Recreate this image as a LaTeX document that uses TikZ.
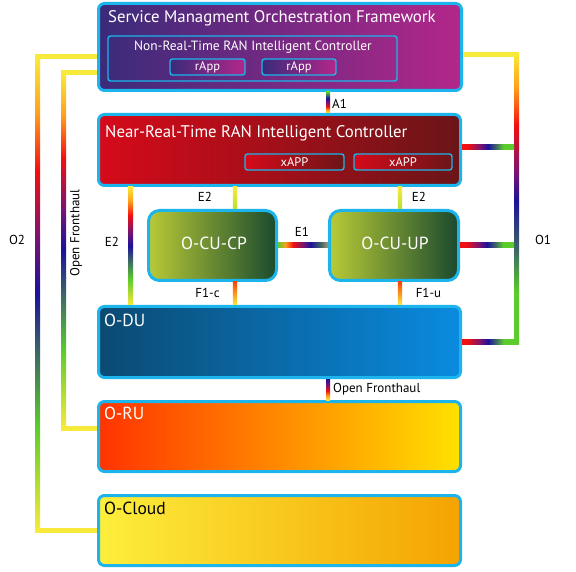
\documentclass[tikz,border=0pt]{standalone}
\usepackage{fontspec}
\setmainfont{PT Sans}
\usetikzlibrary{calc}
\definecolor{bcyan}{HTML}{1CB4EC}
\definecolor{ryellow}{HTML}{F8EA3A}
\definecolor{rorange}{HTML}{FF9F1C}
\definecolor{rred}{HTML}{F21010}
\definecolor{rpurple}{HTML}{7A1470}
\definecolor{rblue}{HTML}{1C1299}
\definecolor{rteal}{HTML}{3C6468}
\definecolor{rgreen}{HTML}{5CCB2C}
\definecolor{rygreen}{HTML}{B8E030}
\definecolor{rtan}{HTML}{A89870}
\definecolor{smoL}{HTML}{3A2B7A}
\definecolor{smoR}{HTML}{B3278A}
\definecolor{nrtL}{HTML}{D60A1A}
\definecolor{nrtR}{HTML}{6A1518}
\definecolor{cuL}{HTML}{B8CA36}
\definecolor{cuR}{HTML}{1A4A2E}
\definecolor{duL}{HTML}{0B4A72}
\definecolor{duR}{HTML}{0A8BE0}
\definecolor{ruL}{HTML}{FF3300}
\definecolor{ruR}{HTML}{FFE100}
\definecolor{clL}{HTML}{FCEE3C}
\definecolor{clR}{HTML}{F5A300}
\pgfdeclareverticalshading{rainbowV}{100bp}{color(0bp)=(ryellow); color(25bp)=(ryellow); color(36bp)=(rgreen); color(44bp)=(rteal); color(50bp)=(rblue); color(56bp)=(rpurple); color(63bp)=(rred); color(69bp)=(rorange); color(75bp)=(ryellow); color(100bp)=(ryellow)}
\pgfdeclareverticalshading{oneV}{100bp}{color(0bp)=(rgreen); color(34bp)=(rgreen); color(41.5bp)=(rteal); color(49.5bp)=(rblue); color(54.5bp)=(rpurple); color(62.5bp)=(rred); color(69bp)=(rorange); color(75bp)=(ryellow); color(100bp)=(ryellow)}
\pgfdeclarehorizontalshading{oneH}{100bp}{color(0bp)=(rred); color(30bp)=(rred); color(42.5bp)=(rpurple); color(50bp)=(rblue); color(57.5bp)=(rteal); color(65bp)=(rgreen); color(100bp)=(rgreen)}
\pgfdeclarehorizontalshading{eoneH}{100bp}{color(0bp)=(rgreen); color(25bp)=(rgreen); color(32.5bp)=(rorange); color(40bp)=(rred); color(50bp)=(rpurple); color(57.5bp)=(rblue); color(67.5bp)=(rteal); color(75bp)=(rtan); color(100bp)=(rtan)}
\pgfdeclareverticalshading{aoneV}{100bp}{color(0bp)=(ryellow); color(25bp)=(ryellow); color(32.5bp)=(rorange); color(40bp)=(rred); color(50bp)=(rpurple); color(60bp)=(rblue); color(75bp)=(rgreen); color(100bp)=(rgreen)}
\pgfdeclareverticalshading{ofhV}{100bp}{color(0bp)=(ryellow); color(25bp)=(ryellow); color(35bp)=(rorange); color(47bp)=(rred); color(60bp)=(rpurple); color(75bp)=(rblue); color(100bp)=(rblue)}
\tikzset{
  box/.style={draw=bcyan, line width=3pt, rounded corners=6pt, inner sep=0pt},
  sbox/.style={draw=bcyan, line width=1.4pt, rounded corners=2.5pt, inner sep=0pt},
  ttl/.style={text=white, font=\fontsize{16.8}{19}\selectfont, inner sep=0pt, anchor=west},
  lbl/.style={text=black, font=\fontsize{13}{15}\selectfont, inner sep=0pt},
  small/.style={text=white, font=\fontsize{12.5}{14}\selectfont, inner sep=0pt}
}
\begin{document}
\begin{tikzpicture}[x=1pt,y=-1pt]
\useasboundingbox (0,0) rectangle (576,572);
\fill[white] (0,0) rectangle (576,572);
% main boxes
\node[box, minimum width=363pt, minimum height=87pt, left color=smoL, right color=smoR] (smo) at (280,47) {};
\node[box, minimum width=362pt, minimum height=71pt, left color=nrtL, right color=nrtR] (nrt) at (279.5,150) {};
\node[box, rounded corners=11pt, minimum width=128pt, minimum height=70pt, left color=cuL, right color=cuR] (cucp) at (212.5,245.5) {};
\node[box, rounded corners=11pt, minimum width=129pt, minimum height=70pt, left color=cuL, right color=cuR] (cuup) at (394,245.5) {};
\node[box, minimum width=362pt, minimum height=71pt, left color=duL, right color=duR] (odu) at (279.5,342) {};
\node[box, minimum width=362pt, minimum height=70pt, left color=ruL, right color=ruR] (oru) at (279.5,436.5) {};
\node[box, minimum width=362pt, minimum height=70pt, left color=clL, right color=clR] (ocl) at (279.5,530.5) {};
% inner boxes
\node[sbox, minimum width=289pt, minimum height=45pt] (nonrt) at (252.5,58.5) {};
\node[sbox, minimum width=75pt, minimum height=16pt, left color=smoL, right color=smoR] (rapp1) at (207.5,67) {};
\node[sbox, minimum width=74pt, minimum height=16pt, left color=smoL, right color=smoR] (rapp2) at (299,67) {};
\node[sbox, minimum width=99pt, minimum height=16pt, left color=nrtL, right color=nrtR] (xapp1) at (294.5,162) {};
\node[sbox, minimum width=98pt, minimum height=16pt, left color=nrtL, right color=nrtR] (xapp2) at (403,162) {};
% titles
\node[ttl] (smoT) at (108,18) {Service Managment Orchestration Framework};
\node[small, font=\fontsize{13.4}{15}\selectfont] (nonrtT) at (253,47) {Non-Real-Time RAN Intelligent Controller};
\node[small] (rapp1T) at (rapp1) {rApp};
\node[small] (rapp2T) at (rapp2) {rApp};
\node[ttl] (nrtT) at (105,133) {Near-Real-Time RAN Intelligent Controller};
\node[small] (xapp1T) at (xapp1) {xAPP};
\node[small] (xapp2T) at (xapp2) {xAPP};
\node[ttl, anchor=center, font=\fontsize{17.5}{20}\selectfont] (cucpT) at (214,243) {O-CU-CP};
\node[ttl, anchor=center, font=\fontsize{17.5}{20}\selectfont] (cuupT) at (395,243) {O-CU-UP};
\node[ttl, font=\fontsize{17.5}{20}\selectfont] (oduT) at (104,320) {O-DU};
\node[ttl, font=\fontsize{17.5}{20}\selectfont] (oruT) at (104,413) {O-RU};
\node[ttl, text=black, font=\fontsize{17.5}{20}\selectfont] (oclT) at (104,508) {O-Cloud};
% short connectors
\coordinate (a1) at (328,0);
\shade[shading=aoneV] ($(a1 |- smo.south)+(-2,0)$) rectangle ($(a1 |- nrt.north)+(2,0)$);
\coordinate (ofh) at (328,0);
\shade[shading=ofhV] ($(ofh |- odu.south)+(-2,0)$) rectangle ($(ofh |- oru.north)+(2,0)$);
\coordinate (e2l) at (235,0);
\coordinate (e2r) at (400,0);
\shade[top color=ryellow, bottom color=rygreen] ($(e2l |- nrt.south)+(-2.2,0)$) rectangle ($(e2l |- cucp.north)+(2.2,0)$);
\shade[top color=ryellow, bottom color=rygreen] ($(e2r |- nrt.south)+(-2.2,0)$) rectangle ($(e2r |- cuup.north)+(2.2,0)$);
\shade[top color=ruL!90!ryellow, bottom color=ryellow] ($(e2l |- cucp.south)+(-2.2,0)$) rectangle ($(e2l |- odu.north)+(2.2,0)$);
\shade[top color=ruL!90!ryellow, bottom color=ryellow] ($(e2r |- cuup.south)+(-2.2,0)$) rectangle ($(e2r |- odu.north)+(2.2,0)$);
\coordinate (e2x) at (130.5,0);
\shade[shading=rainbowV] ($(e2x |- nrt.south)+(-2.5,0)$) rectangle ($(e2x |- odu.north)+(2.5,0)$);
\coordinate (e1y) at (0,245);
\shade[shading=eoneH] ($(cucp.east |- e1y)+(0,-2.2)$) rectangle ($(cuup.west |- e1y)+(0,2.2)$);
% O1
\coordinate (o1a) at (516.5,55);
\coordinate (o1b) at (516.5,147);
\coordinate (o1c) at (516.5,245);
\coordinate (o1d) at (516.5,342);
\shade[shading=oneV] ($(o1a)+(-2.5,-2.5)$) rectangle ($(o1d)+(2.5,2.5)$);
\fill[ryellow] ($(smo.east |- o1a)+(0,-2.5)$) rectangle ($(o1a)+(0,2.5)$);
\shade[shading=oneH] ($(nrt.east |- o1b)+(0,-2.5)$) rectangle ($(o1b)+(-2.5,2.5)$);
\shade[shading=oneH] ($(cuup.east |- o1c)+(0,-2.5)$) rectangle ($(o1c)+(-2.5,2.5)$);
\shade[shading=oneH] ($(odu.east |- o1d)+(0,-2.5)$) rectangle ($(o1d)+(-2.5,2.5)$);
% O2
\coordinate (o2a) at (37.5,57);
\coordinate (o2b) at (37.5,530);
\shade[shading=rainbowV] ($(o2a)+(-2.5,0)$) rectangle ($(o2b)+(2.5,0)$);
\fill[ryellow] ($(o2a)+(-2.5,-2.5)$) rectangle ($(smo.west |- o2a)+(0,2.5)$);
\fill[ryellow] ($(o2b)+(-2.5,-2.5)$) rectangle ($(ocl.west |- o2b)+(0,2.5)$);
% Open Fronthaul (left)
\coordinate (ofa) at (63.5,73);
\coordinate (ofb) at (63.5,428);
\shade[shading=rainbowV] ($(ofa)+(-2.5,0)$) rectangle ($(ofb)+(2.5,0)$);
\fill[ryellow] ($(ofa)+(-2.5,-2.5)$) rectangle ($(smo.west |- ofa)+(0,2.5)$);
\fill[ryellow] ($(ofb)+(-2.5,-2.5)$) rectangle ($(oru.west |- ofb)+(0,2.5)$);
% labels
\node[lbl, anchor=west] (a1L) at (332,104) {A1};
\node[lbl] (e2lL) at (205,197) {E2};
\node[lbl] (e2rL) at (419,197) {E2};
\node[lbl] (e2xL) at (112,242) {E2};
\node[lbl] (e1L) at (302,232) {E1};
\node[lbl] (f1cL) at (207.5,293) {F1-c};
\node[lbl] (f1uL) at (428.5,293) {F1-u};
\node[lbl, anchor=west] (ofhL) at (333,389) {Open Fronthaul};
\node[lbl] (o1L) at (543,240) {O1};
\node[lbl] (o2L) at (17,240) {O2};
\node[lbl, rotate=90] (ofaL) at (76,233) {Open Fronthaul};
\end{tikzpicture}
\end{document}
